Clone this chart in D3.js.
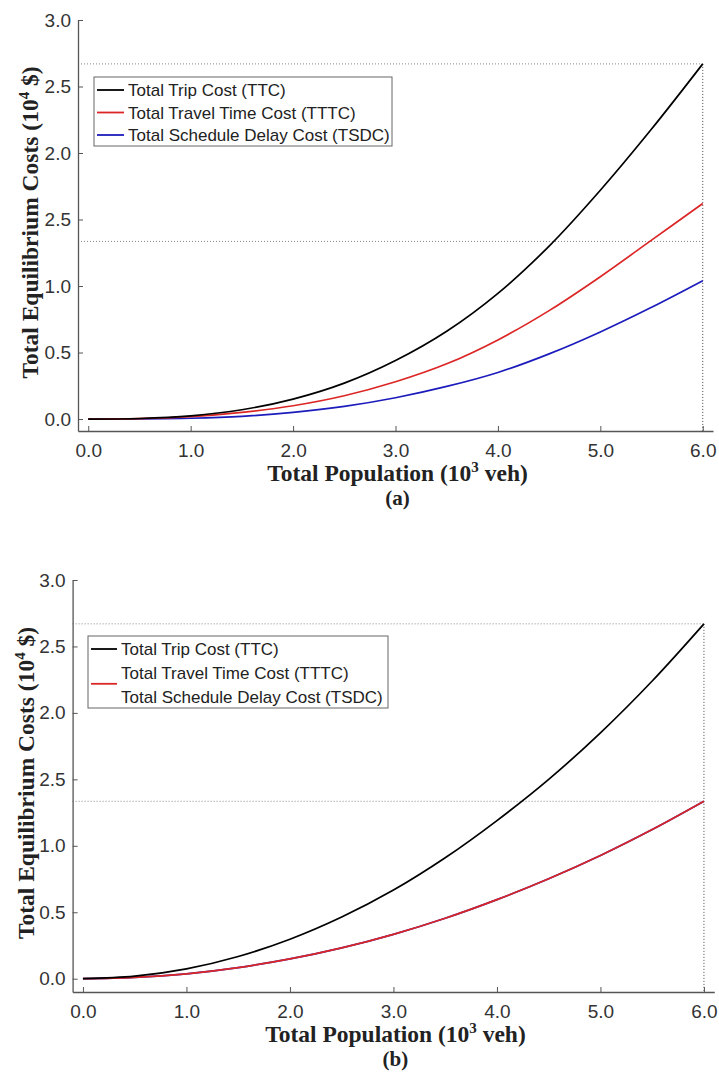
<!DOCTYPE html>
<html>
<head>
<meta charset="utf-8">
<script src="https://cdn.jsdelivr.net/npm/d3@7"></script>
<style>
  body { margin: 0; background: #fff; }
  .tick-label { font-family: "Liberation Sans", Arial, sans-serif; font-size: 19px; fill: #333; }
  .legend-text { font-family: "Liberation Sans", Arial, sans-serif; font-size: 17px; fill: #222; }
  .axis-title { font-family: "Liberation Serif", "Times New Roman", serif; font-size: 23.5px; font-weight: bold; fill: #222; }
  .panel-tag { font-family: "Liberation Serif", "Times New Roman", serif; font-size: 21px; font-weight: bold; fill: #222; }
</style>
</head>
<body>
<div id="chart"></div>
<script>
const width = 719, height = 1072;

// total population, 10^3 veh
const population = [0, 0.5, 1.0, 1.5, 2.0, 2.5, 3.0, 3.5, 4.0, 4.5, 5.0, 5.5, 6.0];

// panel (a), 10^4 $
const ttcA  = [0, 0.004, 0.024, 0.07, 0.15, 0.27, 0.44, 0.66, 0.945, 1.30, 1.72, 2.18, 2.67];
const tttcA = [0, 0.003, 0.018, 0.05, 0.10, 0.175, 0.28, 0.415, 0.595, 0.815, 1.07, 1.345, 1.62];
const tsdcA = [0, 0.001, 0.006, 0.02, 0.05, 0.095, 0.16, 0.245, 0.35, 0.49, 0.655, 0.84, 1.04];

// panel (b), TSDC lies under TTTC
const ttcB  = [0, 0.019, 0.074, 0.167, 0.297, 0.464, 0.667, 0.91, 1.19, 1.50, 1.85, 2.24, 2.67];
const tttcB = [0, 0.01, 0.037, 0.084, 0.149, 0.232, 0.334, 0.455, 0.595, 0.752, 0.927, 1.122, 1.335];
const tsdcB = [0, 0.01, 0.037, 0.084, 0.149, 0.232, 0.334, 0.455, 0.595, 0.752, 0.927, 1.122, 1.335];

// dotted reference levels (full TTC and half of it)
const refLevels = [2.67, 1.335];
const refX = 6.0;

const xTicks = [0, 1, 2, 3, 4, 5, 6];
const xTickLabels = ["0.0", "1.0", "2.0", "3.0", "4.0", "5.0", "6.0"];
const yTicks = [0, 0.5, 1.0, 1.5, 2.0, 2.5, 3.0];
const yTickLabels = ["0.0", "0.5", "1.0", "2.5", "2.0", "2.5", "3.0"];

const seriesNames = ["Total Trip Cost (TTC)", "Total Travel Time Cost (TTTC)", "Total Schedule Delay Cost (TSDC)"];
const seriesColors = ["#000000", "#dc2626", "#1c1cbc"];

let svg = d3.select("#chart")
  .append("svg")
  .attr("width", width)
  .attr("height", height)
  .style("background", "#fff");

function drawPanel(p) {
  const g = svg.append("g");
  const x = d3.scaleLinear().domain([-0.1, 6.1]).range([p.left, p.right]);
  const y = d3.scaleLinear().domain([p.yMin, 3.0]).range([p.bottom, p.top]);

  // dotted guides
  refLevels.forEach((v) => {
    g.append("line")
      .attr("x1", p.left).attr("x2", x(refX))
      .attr("y1", y(v)).attr("y2", y(v))
      .attr("stroke", "#888").attr("stroke-width", 1)
      .attr("stroke-dasharray", "1,2");
  });
  g.append("line")
    .attr("x1", x(refX)).attr("x2", x(refX))
    .attr("y1", y(refLevels[0])).attr("y2", p.bottom)
    .attr("stroke", "#444").attr("stroke-width", 1)
    .attr("stroke-dasharray", "1,2");

  // axes, ticks pointing inward
  const xAxis = d3.axisBottom(x).tickValues(xTicks)
    .tickFormat((d, i) => xTickLabels[i]).tickSizeInner(-5).tickSizeOuter(0).tickPadding(13);
  const yAxis = d3.axisLeft(y).tickValues(yTicks)
    .tickFormat((d, i) => yTickLabels[i]).tickSizeInner(-5).tickSizeOuter(0).tickPadding(7);

  const gx = g.append("g").attr("transform", `translate(0,${p.bottom})`).call(xAxis);
  const gy = g.append("g").attr("transform", `translate(${p.left},0)`).call(yAxis);
  [gx, gy].forEach((a) => {
    a.attr("font-size", null).attr("font-family", null);
    a.select(".domain").attr("stroke", "#555").attr("stroke-width", 1.3);
    a.selectAll(".tick line").attr("stroke", "#555");
    a.selectAll(".tick text").attr("class", "tick-label");
  });

  // curves
  const line = d3.line()
    .x((d, i) => x(population[i]))
    .y((d) => y(d))
    .curve(d3.curveCatmullRom.alpha(0.5));
  [2, 1, 0].forEach((k) => {
    g.append("path")
      .datum(p.series[k])
      .attr("fill", "none")
      .attr("stroke", seriesColors[k])
      .attr("stroke-width", 1.7)
      .attr("d", line);
  });

  // legend
  const lg = g.append("g");
  lg.append("rect")
    .attr("x", p.legend.x).attr("y", p.legend.y)
    .attr("width", p.legend.w).attr("height", p.legend.h)
    .attr("fill", "#fff").attr("stroke", "#666").attr("stroke-width", 1);
  seriesNames.forEach((name, i) => {
    const cy = p.legend.y + p.legend.first + i * p.legend.step;
    lg.append("text")
      .attr("class", "legend-text")
      .attr("x", p.legend.x + p.legend.textDx)
      .attr("y", cy)
      .attr("dy", "0.36em")
      .text(name);
  });
  p.legend.lines.forEach((ln) => {
    const cy = p.legend.y + p.legend.first + ln.row * p.legend.step;
    lg.append("line")
      .attr("x1", p.legend.x + 3).attr("x2", p.legend.x + p.legend.textDx - 4)
      .attr("y1", cy).attr("y2", cy)
      .attr("stroke", seriesColors[ln.k]).attr("stroke-width", 1.8);
  });

  // axis titles
  const cx = (p.left + p.right) / 2 + 2;
  const xt = g.append("text").attr("class", "axis-title")
    .attr("x", cx).attr("y", p.bottom + 50).attr("text-anchor", "middle");
  xt.append("tspan").text("Total Population (10");
  xt.append("tspan").attr("dy", -9).attr("font-size", "15px").text("3");
  xt.append("tspan").attr("dy", 9).text(" veh)");

  g.append("text").attr("class", "panel-tag")
    .attr("x", cx).attr("y", p.bottom + 74).attr("text-anchor", "middle")
    .text(p.tag);

  const cyMid = (p.top + p.bottom) / 2 - 3;
  const yt = g.append("text").attr("class", "axis-title")
    .attr("transform", `translate(${p.yTitleX},${cyMid}) rotate(-90)`)
    .attr("text-anchor", "middle");
  yt.append("tspan").text("Total Equilibrium Costs (10");
  yt.append("tspan").attr("dy", -9).attr("font-size", "15px").text("4");
  yt.append("tspan").attr("dy", 9).text(" $)");
}

drawPanel({
  left: 78, right: 713, top: 20, bottom: 431, yMin: -0.09,
  series: [ttcA, tttcA, tsdcA], tag: "(a)", yTitleX: 38,
  legend: { x: 94, y: 77, w: 298, h: 69, first: 13, step: 22.5, textDx: 34,
            lines: [{ k: 0, row: 0 }, { k: 1, row: 1 }, { k: 2, row: 2 }] }
});

drawPanel({
  left: 72.6, right: 714.3, top: 580, bottom: 992, yMin: -0.1,
  series: [ttcB, tttcB, tsdcB], tag: "(b)", yTitleX: 34,
  legend: { x: 88, y: 636, w: 300, h: 72, first: 13, step: 24, textDx: 33,
            lines: [{ k: 0, row: 0 }, { k: 1, row: 1.45 }] }
});
</script>
</body>
</html>
